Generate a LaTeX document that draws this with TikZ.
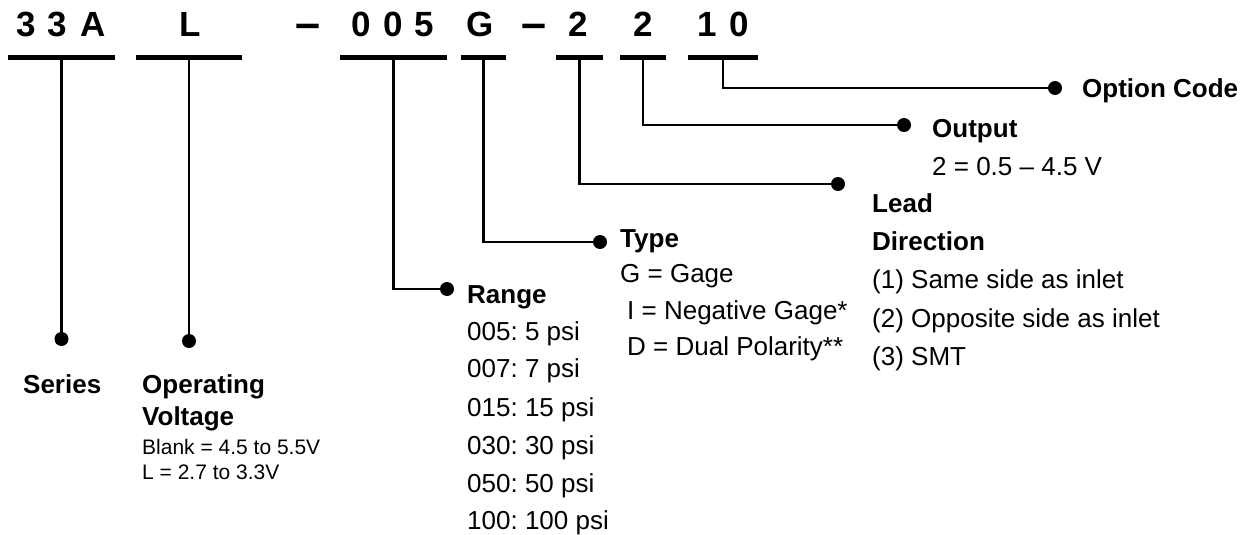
\documentclass[tikz,border=0pt]{standalone}
\usepackage{fontspec}
\setmainfont{Liberation Sans}
\frenchspacing
\begin{document}
\begin{tikzpicture}[x=1pt,y=-1pt,
  bar/.style={fill=black, inner sep=0pt, minimum height=5pt, minimum width=#1},
  dot/.style={circle, fill=black, inner sep=0pt, minimum size=14pt},
  conn/.style={line width=2.6pt},
  code/.style={anchor=base, inner sep=0pt, font=\fontsize{35}{40}\selectfont\bfseries},
  dashchar/.style={anchor=base, inner sep=0pt, font=\fontsize{45}{50}\selectfont\bfseries},
  head/.style={anchor=base west, inner sep=0pt, font=\fontsize{26}{31}\selectfont\bfseries},
  txt/.style={anchor=base west, inner sep=0pt, font=\fontsize{26}{31}\selectfont},
  small/.style={anchor=base west, inner sep=0pt, font=\fontsize{21}{25}\selectfont}]
\useasboundingbox (0,0) rectangle (1250,535);

% part number characters
\node[code] (c1) at (26,37) {3};
\node[code] (c2) at (57,37) {3};
\node[code] (c3) at (93,37) {A};
\node[code] (c4) at (190,37) {L};
\node[dashchar] (c5) at (308,38.5) {–};
\node[code] (c6) at (361,37) {0};
\node[code] (c7) at (393,37) {0};
\node[code] (c8) at (424,37) {5};
\node[code] (c9) at (480,37) {G};
\node[dashchar] (c10) at (534,38.5) {–};
\node[code] (c11) at (578,37) {2};
\node[code] (c12) at (643,37) {2};
\node[code] (c13) at (707,37) {1};
\node[code] (c14) at (739,37) {0};

% bars
\node[bar=107pt] (bar1) at (61.5,57.5) {};
\node[bar=106pt] (bar2) at (189,57.5) {};
\node[bar=107pt] (bar3) at (393.5,57.5) {};
\node[bar=45pt]  (bar4) at (483.5,57.5) {};
\node[bar=47pt]  (bar5) at (579.5,57.5) {};
\node[bar=46pt]  (bar6) at (643,57.5) {};
\node[bar=70pt]  (bar7) at (723,57.5) {};

% dots
\node[dot] (d1) at (61.5,339) {};
\node[dot] (d2) at (189,341) {};
\node[dot] (d3) at (447,289) {};
\node[dot] (d4) at (600,242) {};
\node[dot] (d5) at (838,184) {};
\node[dot] (d6) at (904,125) {};
\node[dot] (d7) at (1055,88) {};

% connectors
\draw[conn] (bar1.south) -- (d1.center);
\draw[conn] (bar2.south) -- (d2.center);
\draw[conn] (bar3.south) |- (d3.center);
\draw[conn] (bar4.south) |- (d4.center);
\draw[conn] (bar5.south) |- (d5.center);
\draw[conn] (bar6.south) |- (d6.center);
\draw[conn] (bar7.south) |- (d7.center);

% labels
\node[head] (series) at (23,393) {Series};
\node[head] (opv1) at (142,393) {Operating};
\node[head] (opv2) at (142,425) {Voltage};
\node[small] (opv3) at (142,454) {Blank = 4.5 to 5.5V};
\node[small] (opv4) at (142,479) {L = 2.7 to 3.3V};

\node[head] (range) at (467,303) {Range};
\node[txt] (r1) at (467,340) {005: 5 psi};
\node[txt] (r2) at (467,377) {007: 7 psi};
\node[txt] (r3) at (467,416) {015: 15 psi};
\node[txt] (r4) at (467,454) {030: 30 psi};
\node[txt] (r5) at (467,492) {050: 50 psi};
\node[txt] (r6) at (467,529) {100: 100 psi};

\node[head] (type) at (620,247) {Type};
\node[txt] (t1) at (620,282) {G = Gage};
\node[txt] (t2) at (627,319) {I = Negative Gage*};
\node[txt] (t3) at (627,355) {D = Dual Polarity**};

\node[head] (lead1) at (872,212) {Lead};
\node[head] (lead2) at (872,250) {Direction};
\node[txt] (l1) at (872,288) {(1) Same side as inlet};
\node[txt] (l2) at (872,327) {(2) Opposite side as inlet};
\node[txt] (l3) at (872,365) {(3) SMT};

\node[head] (out) at (932,137) {Output};
\node[txt] (o1) at (932,175) {2 = 0.5 – 4.5 V};

\node[head] (opt) at (1082,97) {Option Code};
\end{tikzpicture}
\end{document}
